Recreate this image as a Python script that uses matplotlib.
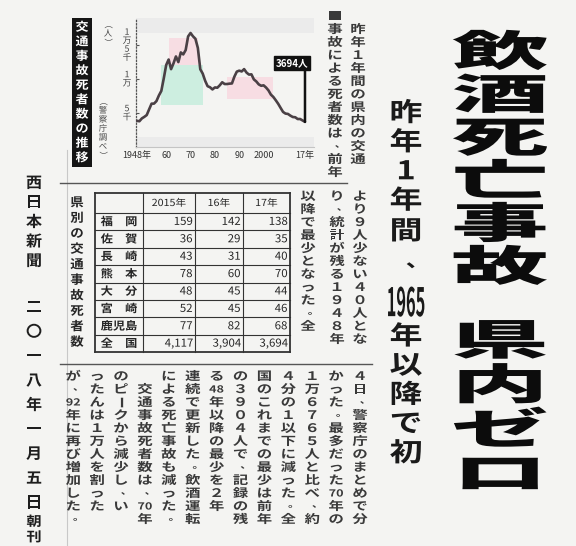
import matplotlib
matplotlib.use('Agg')
import matplotlib.pyplot as plt
from matplotlib.patheffects import AbstractPathEffect
from matplotlib.transforms import Affine2D
from matplotlib.patches import Rectangle

JP = ['Noto Sans CJK JP', 'DejaVu Sans']
plt.rcParams['font.family'] = JP

# ---------------- data ----------------
years = list(range(1948, 2018))
deaths = [3848, 3790, 4202, 4429, 4696, 5544, 6374, 6379, 6751, 7575,
          8248, 10079, 12055, 12865, 11445, 12301, 13318, 12484, 13904, 13618,
          14256, 16257, 16765, 16278, 15918, 14574, 11432, 10792, 9734, 8945,
          8783, 8466, 8760, 8719, 9073, 9520, 9262, 9261, 9317, 9347,
          10344, 11086, 11227, 11109, 11452, 10942, 10649, 10684, 9942, 9640,
          9211, 9006, 9066, 8747, 8326, 7702, 7358, 6871, 6352, 5744,
          5155, 4914, 4863, 4611, 4411, 4373, 4113, 4117, 3904, 3694]
xticks = [1948, 1960, 1970, 1980, 1990, 2000, 2017]
xticklabels = ['1948年', '60', '70', '80', '90', '2000', '17年']
yticks = [5000, 10000, 15000]
yticklabels = ['5千', '1万', '1万5千']
# shaded periods in the chart: (start, end, low, high)
pink_periods = [(1961, 1973, 12000, 16000), (1985, 2004, 7000, 10300)]
green_periods = [(1958, 1975, 6200, 12000)]

prefs = ['福　岡', '佐　賀', '長　崎', '熊　本', '大　分', '宮　崎', '鹿児島', '全　国']
table_years = ['2015年', '16年', '17年']
v2015 = [159, 36, 43, 78, 48, 52, 77, 4117]
v2016 = [142, 29, 31, 60, 45, 45, 82, 3904]
v2017 = [138, 35, 40, 70, 44, 46, 68, 3694]

headline1 = '飲酒死亡事故'
headline2 = '県内ゼロ'
subhead = ['昨', '年', '1', '年', '間', '、', '1965', '年', '以', '降', 'で', '初']
masthead = '西日本新聞'
dateline = '二〇一八年一月五日'
edition = '朝刊'
chart_title = '交通事故死者数の推移'
table_title = '県別の交通事故死者数'

body_top = ['昨年１年間の県内の交通',
            '■事故による死者数は、前年']
body_mid = ['より９人少ない４０人とな',
            'り、統計が残る１９４８年',
            '以降で最少となった。全']
body_low = ['４日、警察庁のまとめで分',
            'かった。最多だった70年の',
            '１万６７６５人と比べ、約',
            '４分の１以下に減った。全',
            '国のこれまでの最少は前年',
            'の３９０４人で、記録の残',
            'る48年以降の最少を２年',
            '連続で更新した。飲酒運転',
            'による死亡事故も減った。',
            '　交通事故死者数は、70年',
            'のピークから減少し、い',
            'ったんは１万人を割った',
            'が、92年に再び増加した。']

BG = '#f4f4f2'
INK = '#262626'
BODY = '#3a3a3a'
W, H = 576, 546


class Stretch(AbstractPathEffect):
    """Scale a text's glyphs about their centre (newspaper flat type)."""
    def __init__(self, sx=1.0, sy=1.0):
        super().__init__()
        self.sx, self.sy = sx, sy

    def draw_path(self, renderer, gc, tpath, affine, rgbFace=None):
        bb = tpath.get_extents(affine)
        cx = (bb.x0 + bb.x1) / 2
        cy = (bb.y0 + bb.y1) / 2
        t = affine + Affine2D().translate(-cx, -cy).scale(self.sx, self.sy).translate(cx, cy)
        renderer.draw_path(gc, tpath, t, rgbFace)


fig = plt.figure(figsize=(W / 100, H / 100), dpi=100, facecolor=BG)
page = fig.add_axes([0, 0, 1, 1])
page.set_xlim(0, W)
page.set_ylim(H, 0)
page.axis('off')


def tokens_of(s):
    out, i = [], 0
    while i < len(s):
        if s[i].isascii() and s[i].isdigit():
            j = i
            while j < len(s) and s[j].isascii() and s[j].isdigit():
                j += 1
            out.append(s[i:j])
            i = j
        else:
            out.append(s[i])
            i += 1
    return out


PUNCT = '、。'
ROT = 'ー「」（）()'


def vtext(x, y0, toks, pitch, size, color=INK, weight='normal', sx=1.0, sy=1.0,
          cells=None, group=None):
    if isinstance(toks, str):
        toks = tokens_of(toks)
    y = y0
    em = size * 100 / 72
    for k, tok in enumerate(toks):
        step = pitch * (cells[k] if cells else 1)
        cy = y + step / 2
        if tok in (' ', '　'):
            y += step
            continue
        kw = dict(ha='center', va='center', fontsize=size, color=color,
                  fontweight=weight, family=JP)
        pe = Stretch(sx, sy)
        if tok in PUNCT:
            kw['fontsize'] = size * 0.75
            t = page.text(x + em * 0.4, cy - em * 0.15, tok, **kw)
        elif tok in ROT:
            t = page.text(x, cy, tok, rotation=-90, **kw)
        elif len(tok) >= 2 and tok.isdigit():
            if group is not None:
                kw['fontsize'] = size * group[0]
                pe = Stretch(group[1], group[2])
            else:
                kw['fontsize'] = size * (0.82 if len(tok) == 2 else 0.6)
            t = page.text(x, cy, tok, **kw)
        else:
            t = page.text(x, cy, tok, **kw)
        t.set_path_effects([pe])
        y += step


# ---------------- rules ----------------
page.plot([67, 67], [150, 546], color='#c8c8c8', lw=0.8)
page.plot([60, 347], [183, 183], color='#555', lw=1.0)
page.plot([60, 372], [364, 364], color='#555', lw=1.0)

# ---------------- headline ----------------
for i, ch in enumerate(headline1):
    vtext(500, 32 + i * 43, ch, 43, 31, color='#0c0c0c', weight='heavy', sx=2.25, sy=0.98)
for i, ch in enumerate(headline2):
    vtext(500, 320 + i * 44.5, ch, 44.5, 31, color='#0c0c0c', weight='heavy', sx=2.25, sy=0.98)

# subheading
vtext(406, 99, subhead, 29.2, 19, color='#1a1a1a', weight='bold', sx=1.25, sy=0.98,
      cells=[1, 1, 1, 1, 1.1, 1.2, 1.35, 1, 1, 1, 1, 1], group=(0.62, 1.0, 2.4))

# masthead / date
vtext(34, 173, masthead, 19.5, 11, color='#1e1e1e', weight='bold', sx=1.05)
vtext(34, 295, dateline, 24.4, 11, color='#1e1e1e', weight='bold', sx=1.05)
vtext(34, 514, edition, 15.5, 9.5, color='#1e1e1e', weight='bold', sx=1.15)

# ---------------- body text ----------------
vtext(358, 23, body_top[0], 13, 8.5, color=BODY, weight='bold', sx=1.3)
vtext(335, 10, body_top[1], 13, 8.5, color=BODY, weight='bold', sx=1.3)
for x, s in zip([360, 337, 308], body_mid):
    vtext(x, 190, s, 13, 8.5, color=BODY, weight='bold', sx=1.3)
for i, s in enumerate(body_low):
    vtext(360 - i * 23.9, 370, s, 13, 8.5, color=BODY, weight='bold', sx=1.3)

# ---------------- chart ----------------
L, R, T, B = 136, 314, 18, 147
ax = fig.add_axes([L / W, 1 - B / H, (R - L) / W, (B - T) / H])
ax.patch.set_alpha(0)
ax.set_xlim(1947.6, 1947.6 + (R - L) / 2.435)
ax.set_ylim(0, 18970)

ax.axhspan(16800, 18970, color='#ebebeb', lw=0, zorder=0)
ax.axhspan(0, 1500, color='#ebebeb', lw=0, zorder=0)
for (a, b, lo, hi) in green_periods:
    ax.add_patch(Rectangle((a, lo), b - a, hi - lo, color='#cdeee0', lw=0, zorder=0.5))
for (a, b, lo, hi) in pink_periods:
    ax.add_patch(Rectangle((a, lo), b - a, hi - lo, color='#f7dde3', lw=0, zorder=0.6))

ax.plot(years, deaths, color='#4a4045', lw=1.9, solid_capstyle='round', zorder=3)

ax.annotate('', xy=(years[-1], deaths[-1]), xytext=(0, 52), textcoords='offset pixels',
            arrowprops=dict(arrowstyle='-', lw=1.8, color='#111', shrinkA=0, shrinkB=0),
            zorder=4)
ax.annotate(f'{deaths[-1]}人', xy=(years[-1], deaths[-1]), xytext=(-13, 59),
            textcoords='offset pixels', ha='center', va='center', color='white',
            fontsize=7, fontweight='bold',
            bbox=dict(boxstyle='square,pad=0.2', fc='#111', ec='#111'), zorder=5)

ax.set_xticks(xticks)
ax.set_xticklabels(xticklabels)
ax.set_yticks(yticks)
ax.tick_params(axis='x', length=0, labelsize=6.5, pad=3, colors='#333')
ax.tick_params(axis='y', length=2, direction='in', labelleft=False, colors='#555')
for s in ('top', 'right'):
    ax.spines[s].set_visible(False)
ax.spines['bottom'].set_color('#c4c4c4')
ax.spines['bottom'].set_linewidth(0.8)
ax.spines['left'].set_linestyle(':')
ax.spines['left'].set_color('#555')
ax.spines['left'].set_linewidth(0.9)

# vertical y tick labels, placed through the axis scale
for v, lab in zip(yticks, yticklabels):
    py = H - ax.transData.transform((ax.get_xlim()[0], v))[1]
    toks = tokens_of(lab)
    vtext(127, py - len(toks) * 8.5 / 2, toks, 8.5, 6.3, color='#444')
vtext(108, 20, '（人）', 9, 6, color='#444')
vtext(103, 97, '（警察庁調べ）', 9, 6, color='#444')

# chart title box
page.add_patch(Rectangle((72, 18), 20, 149, color='#151515', lw=0))
vtext(82, 20, chart_title, 14.5, 8.5, color='white', weight='bold', sx=1.1)

# ---------------- table ----------------
tx = [95, 143, 195, 243, 290]
ty0, th_head, th_row = 193, 20, 17.4
rows_y = [ty0, ty0 + th_head] + [ty0 + th_head + th_row * (i + 1) for i in range(len(prefs))]
for i, y in enumerate(rows_y):
    outer = i in (0, len(rows_y) - 1)
    page.plot([tx[0], tx[-1]], [y, y], color='#333', lw=1.3 if outer else 0.8)
for j, x in enumerate(tx):
    outer = j in (0, len(tx) - 1)
    page.plot([x, x], [rows_y[0], rows_y[-1]], color='#333', lw=1.3 if outer else 0.8)

for j, h in enumerate(table_years):
    t = page.text((tx[j + 1] + tx[j + 2]) / 2, ty0 + th_head / 2, h, ha='center',
                  va='center', fontsize=7, color=INK)
    t.set_path_effects([Stretch(1.1, 1)])
cols = [v2015, v2016, v2017]
for i, name in enumerate(prefs):
    cy = ty0 + th_head + th_row * (i + 0.5)
    t = page.text((tx[0] + tx[1]) / 2, cy, name, ha='center', va='center',
                  fontsize=8, color=INK, fontweight='bold')
    t.set_path_effects([Stretch(1.1, 1)])
    for j, col in enumerate(cols):
        t = page.text(tx[j + 2] - 3, cy, f'{col[i]:,}', ha='right', va='center',
                      fontsize=7.5, color=INK)
        t.set_path_effects([Stretch(1.1, 1.05)])

vtext(77, 195, table_title, 15.5, 8.8, weight='bold', sx=1.1)

fig.savefig('out.png', dpi=100, facecolor=BG)
